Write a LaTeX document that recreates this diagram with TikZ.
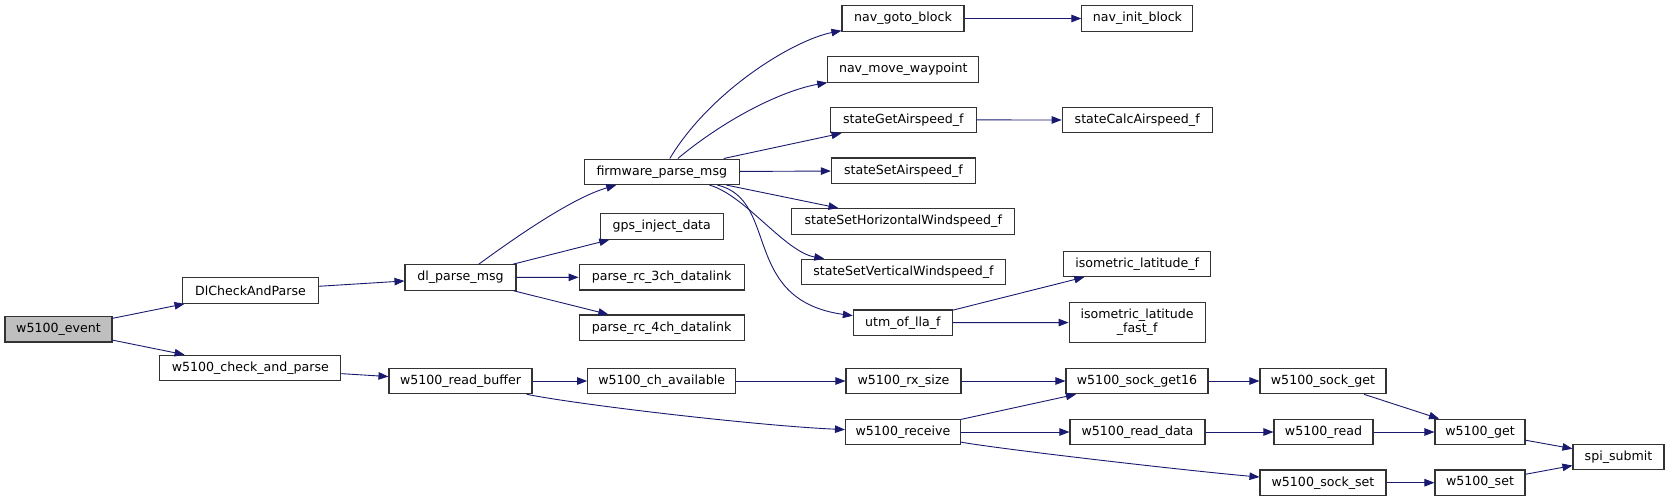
\documentclass[tikz,border=0pt]{standalone}
\usepackage{fontspec}
\setmainfont{DejaVu Sans}
\usepackage{tikz}
\usetikzlibrary{arrows.meta}
\definecolor{EdgeBlue}{HTML}{191970}
\definecolor{RootGray}{HTML}{BFBFBF}
\definecolor{BoxLine}{HTML}{333333}

\begin{document}
\begin{tikzpicture}[
  x=1pt,y=-1pt,
  func/.style={draw=BoxLine,line width=1.1pt,fill=white,minimum height=25.5pt,inner sep=0pt,align=center,font=\fontsize{12.6}{14}\selectfont},
  call/.style={-{Triangle[length=10pt,width=7.5pt]},EdgeBlue,line width=0.9pt}
]
\fill[white] (0,0) rectangle (1669,501);
\useasboundingbox (0,0) rectangle (1669,501);
\node[func,fill=RootGray,minimum width=107pt] (event) at (58.5,329.2) {w5100\_event};
\node[func,minimum width=136pt] (dlcheck) at (250.5,290.5) {DlCheckAndParse};
\node[func,minimum width=181pt] (checkparse) at (250.3,368) {w5100\_check\_and\_parse};
\node[func,minimum width=111pt] (dlparse) at (460.5,277.5) {dl\_parse\_msg};
\node[func,minimum width=143pt] (readbuf) at (460.5,381) {w5100\_read\_buffer};
\node[func,minimum width=155pt] (fwparse) at (661.8,171.8) {firmware\_parse\_msg};
\node[func,minimum width=123pt] (gpsinject) at (661.8,226.5) {gps\_inject\_data};
\node[func,minimum width=165pt] (rc3ch) at (661.6,277.2) {parse\_rc\_3ch\_datalink};
\node[func,minimum width=165pt] (rc4ch) at (661.6,327.7) {parse\_rc\_4ch\_datalink};
\node[func,minimum width=148pt] (chavail) at (661.7,381) {w5100\_ch\_available};
\node[func,minimum width=122pt] (navgoto) at (903,18.5) {nav\_goto\_block};
\node[func,minimum width=151pt] (navmove) at (903.3,69.4) {nav\_move\_waypoint};
\node[func,minimum width=146pt] (getas) at (903.4,119.9) {stateGetAirspeed\_f};
\node[func,minimum width=144pt] (setas) at (903.4,170.7) {stateSetAirspeed\_f};
\node[func,minimum width=223pt] (sethw) at (903.2,221.4) {stateSetHorizontalWindspeed\_f};
\node[func,minimum width=204pt] (setvw) at (903.4,271.9) {stateSetVerticalWindspeed\_f};
\node[func,minimum width=99pt] (utm) at (902.9,322.7) {utm\_of\_lla\_f};
\node[func,minimum width=115pt] (rxsize) at (903.5,381) {w5100\_rx\_size};
\node[func,minimum width=115pt] (receive) at (903,432) {w5100\_receive};
\node[func,minimum width=111pt] (navinit) at (1137.4,18.5) {nav\_init\_block};
\node[func,minimum width=150pt] (calcas) at (1137.2,120) {stateCalcAirspeed\_f};
\node[func,minimum width=147pt] (isolat) at (1137.2,263.8) {isometric\_latitude\_f};
\node[func,minimum width=136pt,minimum height=40.4pt] (isolatfast) at (1137.1,322.5) {isometric\_latitude\\\_fast\_f};
\node[func,minimum width=142pt] (sockget16) at (1137,381) {w5100\_sock\_get16};
\node[func,minimum width=135pt] (readdata) at (1137.5,432) {w5100\_read\_data};
\node[func,minimum width=126pt] (sockget) at (1323,381) {w5100\_sock\_get};
\node[func,minimum width=99pt] (rdreg) at (1323.5,432) {w5100\_read};
\node[func,minimum width=126pt] (sockset) at (1323,482.7) {w5100\_sock\_set};
\node[func,minimum width=90pt] (getreg) at (1480,432) {w5100\_get};
\node[func,minimum width=90pt] (setreg) at (1480,482.7) {w5100\_set};
\node[func,minimum width=91pt] (spi) at (1618.5,457) {spi\_submit};
\draw[call] (event) -- (dlcheck);
\draw[call] (event) -- (checkparse);
\draw[call] (dlcheck) -- (dlparse);
\draw[call] (checkparse) -- (readbuf);
\draw[call] (dlparse) .. controls (516,237) and (572,198) .. (fwparse);
\draw[call] (dlparse) -- (gpsinject);
\draw[call] (dlparse) -- (rc3ch);
\draw[call] (dlparse) -- (rc4ch);
\draw[call] (readbuf) -- (chavail);
\draw[call] (readbuf) .. controls (580,405) and (760,426) .. (receive);
\draw[call] (fwparse) .. controls (711,90) and (794,40) .. (navgoto);
\draw[call] (fwparse) .. controls (729,116) and (785,90) .. (navmove);
\draw[call] (fwparse) -- (getas);
\draw[call] (fwparse) -- (setas);
\draw[call] (fwparse) -- (sethw);
\draw[call] (fwparse) .. controls (745,195) and (785,252) .. (setvw);
\draw[call] (fwparse) .. controls (780,200) and (740,300) .. (utm);
\draw[call] (chavail) -- (rxsize);
\draw[call] (navgoto) -- (navinit);
\draw[call] (getas) -- (calcas);
\draw[call] (utm) -- (isolat);
\draw[call] (utm) -- (isolatfast);
\draw[call] (rxsize) -- (sockget16);
\draw[call] (receive) -- (sockget16);
\draw[call] (receive) -- (readdata);
\draw[call] (receive) .. controls (1000,449) and (1180,470) .. (sockset);
\draw[call] (sockget16) -- (sockget);
\draw[call] (readdata) -- (rdreg);
\draw[call] (sockget) -- (getreg);
\draw[call] (rdreg) -- (getreg);
\draw[call] (sockset) -- (setreg);
\draw[call] (getreg) -- (spi);
\draw[call] (setreg) -- (spi);
\end{tikzpicture}
\end{document}
